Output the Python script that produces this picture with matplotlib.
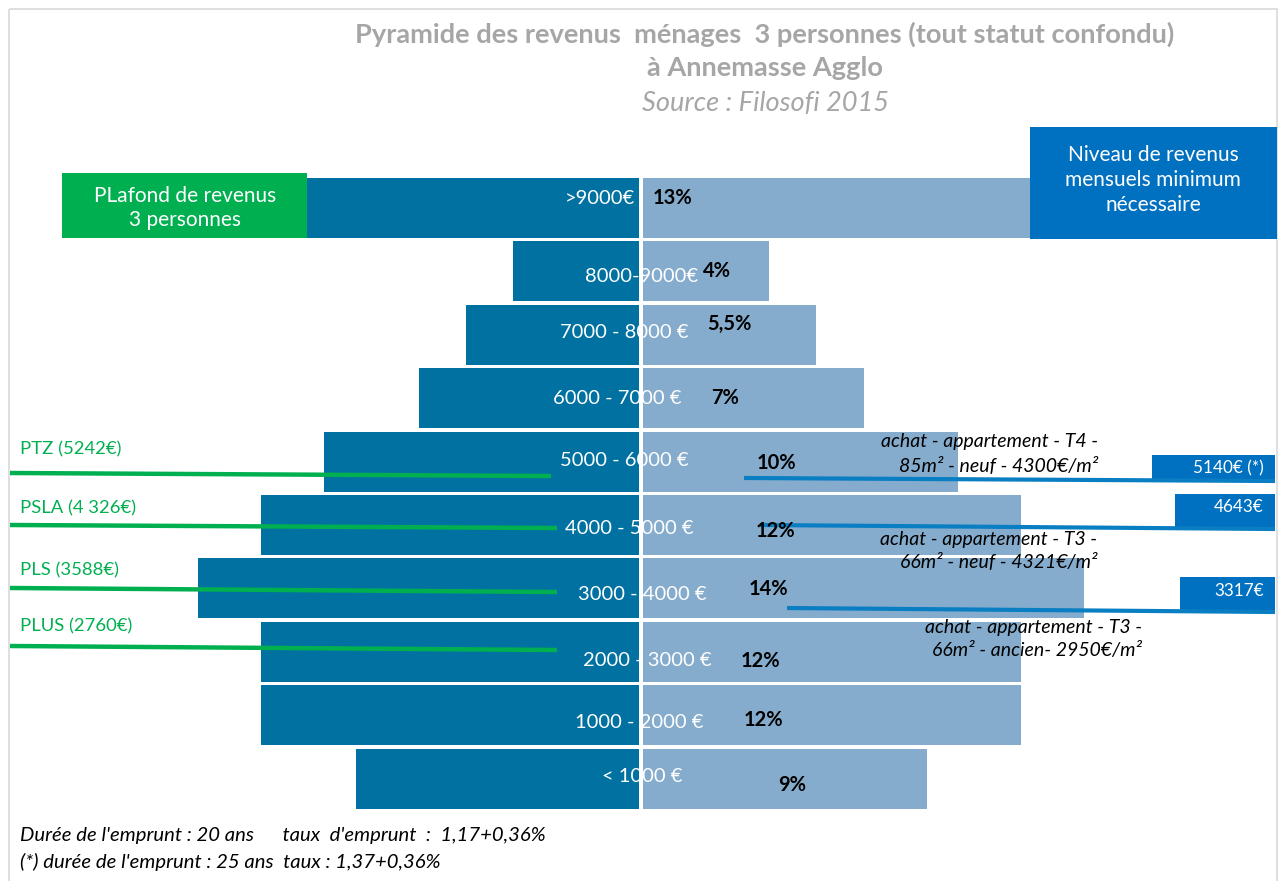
import matplotlib
matplotlib.use("Agg")
import matplotlib.pyplot as plt
from matplotlib.patches import Rectangle

plt.rcParams['font.family'] = ['Lato', 'DejaVu Sans']

# revenue bands, top to bottom, and share of households in each
bands = ['>9000€', '8000-9000€', '7000 - 8000 €', '6000 - 7000 €', '5000 - 6000 €',
         '4000 - 5000 €', '3000 - 4000 €', '2000 - 3000 €', '1000 - 2000 €', '< 1000 €']
shares = [13, 4, 5.5, 7, 10, 12, 14, 12, 12, 9]

# income ceilings (left side)
plafonds = ['PTZ (5242€)', 'PSLA (4 326€)', 'PLS (3588€)', 'PLUS (2760€)']
# minimum monthly income for each purchase (right side)
besoins = ['5140€ (*)', '4643€', '3317€']
achats = ['achat - appartement - T4 -\n85m² - neuf - 4300€/m²',
          'achat - appartement - T3 -\n66m² - neuf - 4321€/m²',
          'achat - appartement - T3 -\n66m² - ancien- 2950€/m²']

title = 'Pyramide des revenus  ménages  3 personnes (tout statut confondu)'
subtitle = 'à Annemasse Agglo'
source = 'Source : Filosofi 2015'
notes = ["Durée de l'emprunt : 20 ans      taux  d'emprunt  :  1,17+0,36%",
         "(*) durée de l'emprunt : 25 ans  taux : 1,37+0,36%"]

DARK = '#0071A0'
LIGHT = '#85ACCD'
GREEN = '#00B050'
BLUE = '#0070C0'
LINE_BLUE = '#0A7EC2'
GREY = '#A6A6A6'

W, H = 1280, 881
CX = 641        # pixel position of the pyramid axis
S = 31.5        # pixels per percent
ROW0, PITCH = 208, 63.4
GAP = 2 / S

fig = plt.figure(figsize=(W / 100, H / 100), dpi=100)

# pyramid in data units: x = percent, y = band index
ax = fig.add_axes([0, 0, 1, 1])
ax.set_xlim(-CX / S, (W - CX) / S)
ax.set_ylim((H - ROW0) / PITCH, -ROW0 / PITCH)
ax.axis('off')
rows = list(range(len(bands)))
ax.barh(rows, [-v for v in shares], left=-GAP, height=0.945, color=DARK)
ax.barh(rows, shares, left=GAP, height=0.945, color=LIGHT)

# annotation layer in pixel units
ov = fig.add_axes([0, 0, 1, 1], zorder=2)
ov.set_xlim(0, W)
ov.set_ylim(H, 0)
ov.axis('off')
ov.patch.set_alpha(0)

ov.add_patch(Rectangle((9, 9), 1268, 900, fill=False, edgecolor='#D9D9D9', lw=1.2))

# headers
ov.text(765, 34, title, ha='center', va='center', fontsize=19.6, weight='bold', color=GREY)
ov.text(765, 68, subtitle, ha='center', va='center', fontsize=19.6, weight='bold', color=GREY)
ov.text(765, 103, source, ha='center', va='center', fontsize=19.6, style='italic', color=GREY)

ov.add_patch(Rectangle((62, 173), 245, 65, color=GREEN, lw=0))
ov.text(185, 208, 'PLafond de revenus\n3 personnes', ha='center', va='center',
        fontsize=15, color='white', linespacing=1.3)
ov.add_patch(Rectangle((1030, 127), 247, 112, color=BLUE, lw=0))
ov.text(1153, 180, 'Niveau de revenus\nmensuels minimum\nnécessaire', ha='center', va='center',
        fontsize=15, color='white', linespacing=1.3)

# band names and share labels
band_x = [600, 642, 624, 617, 624, 629, 642, 647, 639, 642]
band_y = [198, 276, 333, 399, 460, 528, 594, 661, 723, 776]
pct_x = [673, 717, 729, 725, 776, 775, 768, 760, 763, 792]
pct_y = [198, 271, 324, 398, 463, 531, 589, 661, 720, 785]
for i, (b, v) in enumerate(zip(bands, shares)):
    ov.text(band_x[i], band_y[i], b, ha='center', va='center', fontsize=14.5, color='white')
    ov.text(pct_x[i], pct_y[i], f'{v:g}%'.replace('.', ','), ha='center', va='center',
            fontsize=14.5, weight='bold', color='black')

# ceilings on the left
plaf_y = [449, 508, 570, 626]
plaf_lines = [(473, 476, 551), (525, 528, 557), (588, 592, 557), (646, 650, 557)]
for lab, ty, (y1, y2, x2) in zip(plafonds, plaf_y, plaf_lines):
    ov.plot([10, x2], [y1, y2], color=GREEN, lw=3.2, solid_capstyle='butt')
    ov.text(20, ty, lab, ha='left', va='center', fontsize=13.3, color=GREEN)

# required incomes on the right
box_x = [1152, 1175, 1180]
box_y = [455, 494, 577]
box_h = [26, 35, 35]
need_lines = [(744, 478, 481), (760, 525, 529), (787, 608, 612)]
for lab, bx, by, bh, (x1, y1, y2) in zip(besoins, box_x, box_y, box_h, need_lines):
    ov.add_patch(Rectangle((bx, by), 1275 - bx, bh, color=BLUE, lw=0))
    ov.text(1264, by + bh / 2 - (4 if bh > 30 else 0), lab, ha='right', va='center',
            fontsize=12.3, color='white')
    ov.plot([x1, 1275], [y1, y2], color=LINE_BLUE, lw=3, solid_capstyle='butt')

achat_x = [1098, 1097, 1142]
achat_y = [454, 551, 639]
for lab, axx, ayy in zip(achats, achat_x, achat_y):
    ov.text(axx, ayy, lab, ha='right', va='center', fontsize=14, style='italic',
            color='black', linespacing=1.4, multialignment='right')

ov.text(20, 836, notes[0], ha='left', va='center', fontsize=14.6, style='italic')
ov.text(20, 862, notes[1], ha='left', va='center', fontsize=14.6, style='italic')

fig.savefig('out.png', dpi=100)
